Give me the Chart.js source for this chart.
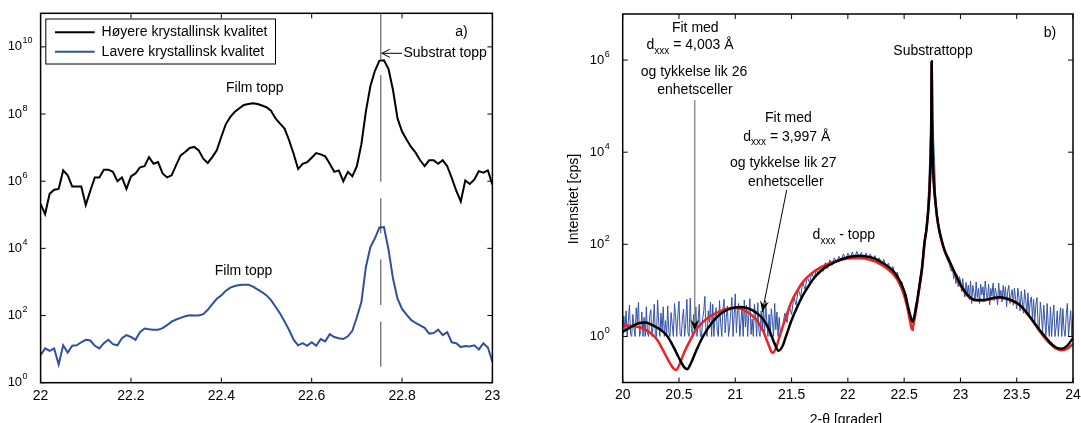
<!DOCTYPE html>
<html>
<head>
<meta charset="utf-8">
<script src="https://cdn.jsdelivr.net/npm/chart.js@4.4.0/dist/chart.umd.min.js"></script>
<style>
  html, body { margin: 0; padding: 0; background: #fff; overflow: hidden; }
  #wrap { position: relative; width: 1081px; height: 423px; overflow: hidden; }
  canvas { position: absolute; top: 0; }
  #panelA { left: 0; }
  #panelB { left: 540px; }
</style>
</head>
<body>
<div id="wrap">
  <canvas id="panelA" width="540" height="423"></canvas>
  <canvas id="panelB" width="560" height="423"></canvas>
</div>
<script>
// ---- panel a) : two films, offset on a log axis ----
const twoThetaA = [
  22.00, 22.01, 22.02, 22.03, 22.04, 22.05, 22.06, 22.07, 22.08, 22.09,
  22.10, 22.11, 22.12, 22.13, 22.14, 22.15, 22.16, 22.17, 22.18, 22.19,
  22.20, 22.21, 22.22, 22.23, 22.24, 22.25, 22.26, 22.27, 22.28, 22.29,
  22.30, 22.31, 22.32, 22.33, 22.34, 22.35, 22.36, 22.37, 22.38, 22.39,
  22.40, 22.41, 22.42, 22.43, 22.44, 22.45, 22.46, 22.47, 22.48, 22.49,
  22.50, 22.51, 22.52, 22.53, 22.54, 22.55, 22.56, 22.57, 22.58, 22.59,
  22.60, 22.61, 22.62, 22.63, 22.64, 22.65, 22.66, 22.67, 22.68, 22.69,
  22.70, 22.71, 22.72, 22.73, 22.74, 22.75, 22.76, 22.77, 22.78, 22.79,
  22.80, 22.81, 22.82, 22.83, 22.84, 22.85, 22.86, 22.87, 22.88, 22.89,
  22.90, 22.91, 22.92, 22.93, 22.94, 22.95, 22.96, 22.97, 22.98, 22.99,
  23.00
];
const highQuality = [
  2.1e5, 1.05e5, 4.2e5, 5.6e5, 5.9e5, 2.1e6, 1.5e6, 6.9e5, 6.9e5, 6.9e5,
  1.95e5, 5.2e5, 1.3e6, 1.3e6, 2.2e6, 2.2e6, 1.9e6, 1.0e6, 1.3e6, 5.9e5,
  1.4e6, 1.7e6, 2.6e6, 2.8e6, 5.2e6, 3.3e6, 3.7e6, 1.7e6, 1.3e6, 1.5e6,
  3.0e6, 5.9e6, 7.4e6, 9.8e6, 1.05e7, 8.3e6, 4.7e6, 3.5e6, 5.2e6, 8.3e6,
  2.1e7, 5.0e7, 8.3e7, 1.17e8, 1.48e8, 1.86e8, 2.0e8, 2.1e8, 2.0e8, 1.8e8,
  1.6e8, 1.26e8, 7.4e7, 5.2e7, 3.7e7, 1.66e7, 6.6e6, 2.3e6, 3.3e6, 3.7e6,
  5.0e6, 6.9e6, 6.3e6, 5.5e6, 3.3e6, 1.9e6, 2.1e6, 1.0e6, 1.9e6, 1.4e6,
  2.8e6, 1.26e7, 1.2e8, 6.8e8, 1.95e9, 3.9e9, 4.0e9, 2.2e9, 5.2e8, 7.4e7,
  3.0e7, 1.74e7, 1.05e7, 7.1e6, 4.2e6, 2.8e6, 4.2e6, 4.2e6, 3.3e6, 4.2e6,
  2.8e6, 1.26e6, 5.2e5, 2.5e5, 1.05e6, 8.3e5, 1.12e6, 2.0e6, 1.8e6, 2.1e6,
  7.9e5
];
const lowQuality = [
  6.6, 10.5, 8.9, 10.5, 3.5, 13, 7.9, 12.6, 13, 16,
  19, 18, 12.6, 10.5, 15, 19, 14, 13, 21, 26,
  23, 19, 32, 41, 39, 38, 38, 42, 52, 66,
  76, 85, 95, 102, 100, 100, 110, 148, 219, 316,
  398, 550, 676, 759, 813, 832, 832, 724, 603, 501,
  398, 288, 182, 115, 66, 37, 19, 13, 15, 12.6,
  16, 12.6, 20, 17, 28, 23, 21, 20, 24, 35,
  89, 251, 2800, 1.1e4, 2.0e4, 4.2e4, 4.3e4, 9.3e3, 1260, 316,
  158, 107, 74, 60, 51, 43, 29, 30, 38, 26,
  32, 16, 15, 11.5, 12.3, 12, 13, 9.8, 15, 11.2,
  4.2
];
const xTicksA = [22, 22.2, 22.4, 22.6, 22.8, 23];
const yTicksA = [1, 1e2, 1e4, 1e6, 1e8, 1e10];
const substrateA = 22.753;

// ---- panel b) : measured scan and two fits ----
const twoThetaB = [
  20.00, 20.01, 20.02, 20.03, 20.04, 20.05, 20.06, 20.07, 20.08, 20.09,
  20.10, 20.11, 20.12, 20.13, 20.14, 20.15, 20.16, 20.17, 20.18, 20.19,
  20.20, 20.21, 20.22, 20.23, 20.24, 20.25, 20.26, 20.27, 20.28, 20.29,
  20.30, 20.31, 20.32, 20.33, 20.34, 20.35, 20.36, 20.37, 20.38, 20.39,
  20.40, 20.41, 20.42, 20.43, 20.44, 20.45, 20.46, 20.47, 20.48, 20.49,
  20.50, 20.51, 20.52, 20.53, 20.54, 20.55, 20.56, 20.57, 20.58, 20.59,
  20.60, 20.61, 20.62, 20.63, 20.64, 20.65, 20.66, 20.67, 20.68, 20.69,
  20.70, 20.71, 20.72, 20.73, 20.74, 20.75, 20.76, 20.77, 20.78, 20.79,
  20.80, 20.81, 20.82, 20.83, 20.84, 20.85, 20.86, 20.87, 20.88, 20.89,
  20.90, 20.91, 20.92, 20.93, 20.94, 20.95, 20.96, 20.97, 20.98, 20.99,
  21.00, 21.01, 21.02, 21.03, 21.04, 21.05, 21.06, 21.07, 21.08, 21.09,
  21.10, 21.11, 21.12, 21.13, 21.14, 21.15, 21.16, 21.17, 21.18, 21.19,
  21.20, 21.21, 21.22, 21.23, 21.24, 21.25, 21.26, 21.27, 21.28, 21.29,
  21.30, 21.31, 21.32, 21.33, 21.34, 21.35, 21.36, 21.37, 21.38, 21.39,
  21.40,
  21.42, 21.44, 21.46, 21.48,
  21.50, 21.52, 21.54, 21.56, 21.58, 21.60, 21.62, 21.64, 21.66, 21.68,
  21.70, 21.72, 21.74, 21.76, 21.78, 21.80, 21.82, 21.84, 21.86, 21.88,
  21.90, 21.92, 21.94, 21.96, 21.98, 22.00, 22.02, 22.04, 22.06, 22.08,
  22.10, 22.12, 22.14, 22.16, 22.18, 22.20, 22.22, 22.24, 22.26, 22.28,
  22.30, 22.32, 22.34, 22.36, 22.38, 22.40, 22.42, 22.44, 22.46, 22.48,
  22.50, 22.52, 22.54, 22.56, 22.58, 22.60, 22.62, 22.64, 22.66, 22.68,
  22.70, 22.71, 22.72, 22.73, 22.74, 22.745, 22.75, 22.76, 22.77, 22.78, 22.79, 22.80,
  22.82, 22.84, 22.86, 22.88,
  22.90, 22.91, 22.92, 22.93, 22.94, 22.95, 22.96, 22.97, 22.98, 22.99,
  23.00, 23.01, 23.02, 23.03, 23.04, 23.05, 23.06, 23.07, 23.08, 23.09,
  23.10, 23.11, 23.12, 23.13, 23.14, 23.15, 23.16, 23.17, 23.18, 23.19,
  23.20, 23.21, 23.22, 23.23, 23.24, 23.25, 23.26, 23.27, 23.28, 23.29,
  23.30, 23.31, 23.32, 23.33, 23.34, 23.35, 23.36, 23.37, 23.38, 23.39,
  23.40, 23.41, 23.42, 23.43, 23.44, 23.45, 23.46, 23.47, 23.48, 23.49,
  23.50, 23.51, 23.52, 23.53, 23.54, 23.55, 23.56, 23.57, 23.58, 23.59,
  23.60, 23.61, 23.62, 23.63, 23.64, 23.65, 23.66, 23.67, 23.68, 23.69,
  23.70, 23.71, 23.72, 23.73, 23.74, 23.75, 23.76, 23.77, 23.78, 23.79,
  23.80, 23.81, 23.82, 23.83, 23.84, 23.85, 23.86, 23.87, 23.88, 23.89,
  23.90, 23.91, 23.92, 23.93, 23.94, 23.95, 23.96, 23.97, 23.98, 23.99,
  24.00
];
const measured = [
  1.0, 2.8, 1.4, 3.6, 1.0, 2.2, 4.8, 1.1, 1.0, 3.0,
  1.6, 1.0, 4.2, 2.0, 5.5, 1.0, 1.3, 3.4, 1.0, 2.6,
  1.0, 4.4, 1.2, 1.0, 2.8, 3.8, 1.0, 1.7, 5.0, 1.1,
  1.0, 6.2, 2.0, 1.0, 3.2, 1.3, 4.4, 1.0, 2.2, 1.0,
  4.6, 1.2, 1.0, 3.3, 1.8, 1.0, 5.2, 2.6, 1.0, 3.0,
  5.8, 1.1, 1.0, 2.4, 3.9, 1.0, 2.0, 6.4, 1.2, 1.0,
  6.8, 1.5, 1.0, 3.0, 1.4, 4.4, 1.0, 2.2, 5.0, 1.0,
  1.0, 2.4, 3.6, 7.4, 1.2, 1.0, 3.6, 2.0, 5.6, 1.0,
  5.0, 1.0, 2.6, 4.2, 1.3, 1.0, 6.0, 2.0, 1.0, 3.8,
  6.4, 1.2, 2.6, 4.6, 1.0, 1.6, 3.4, 7.0, 1.0, 2.8,
  8.4, 1.2, 3.6, 5.2, 1.0, 2.0, 4.4, 1.0, 6.2, 1.6,
  4.8, 1.0, 3.0, 6.6, 1.1, 2.4, 1.0, 5.0, 2.8, 1.0,
  5.4, 1.3, 1.0, 3.6, 1.5, 4.4, 1.0, 6.0, 2.2, 1.0,
  3.0, 1.0, 4.0, 2.2, 1.0, 5.2, 1.4, 3.4, 1.0, 2.6,
  1.2,
  1.6, 3.2, 2.0, 4.6,
  3.0, 7.2, 4.8, 10.8, 7.2, 15.2, 10.4, 19.6, 14.4, 24,
  17.6, 28, 21.6, 33, 26, 40, 30, 46, 35, 51,
  40, 55, 43, 62, 46, 64, 48, 68, 50, 70,
  50, 67, 48, 65, 46, 62, 43, 57, 40, 51,
  35, 47, 30, 39, 26, 33, 21, 25, 14, 15.6,
  8.0, 8.2, 3.2, 1.6, 1.3, 4.8, 6.4, 20, 28, 96,
  300, 650, 2500, 13000, 60000, 90000, 70000, 25000, 6500, 1200, 480, 300,
  145, 105, 72, 48,
  38, 30, 26, 32, 18, 24, 14, 22, 12, 20,
  16, 9.5, 18, 11, 7.2, 15, 8.5, 13, 6.4, 16,
  5.2, 12.8, 9.0, 6.0, 15.2, 7.0, 11, 5.2, 13.6, 8.0,
  12, 5.6, 16, 9.0, 6.0, 13.6, 4.8, 11, 7.6, 14.4,
  6.0, 11.2, 8.4, 4.8, 14.4, 7.2, 10, 5.6, 12.8, 6.8,
  12, 4.4, 9.6, 12.8, 5.2, 8.0, 10.4, 4.8, 11.2, 6.4,
  4.0, 11.2, 7.0, 3.6, 9.6, 5.6, 3.2, 10.4, 6.4, 3.0,
  8.8, 2.8, 5.6, 7.2, 2.4, 6.4, 2.0, 4.8, 7.0, 1.8,
  1.5, 5.6, 3.0, 1.2, 4.8, 2.2, 1.05, 5.2, 1.8, 1.0,
  4.4, 1.0, 2.6, 4.8, 1.0, 1.6, 3.6, 1.0, 2.4, 4.2,
  1.0, 4.0, 1.4, 1.0, 3.0, 5.2, 1.0, 2.0, 3.6, 1.0,
  3.2
];
// fit with d = 4,003 Å, 26 unit cells (black)
const fitBlackX = [
  20.00, 20.05, 20.10, 20.15, 20.20, 20.25, 20.30, 20.35, 20.40, 20.45, 20.50, 20.55, 20.575,
  20.60, 20.65, 20.70, 20.75, 20.80, 20.85, 20.90, 20.95, 21.00, 21.05, 21.10, 21.15, 21.20,
  21.25, 21.30, 21.35, 21.385, 21.42, 21.45, 21.50, 21.55, 21.60, 21.65, 21.70, 21.75, 21.80,
  21.85, 21.90, 21.95, 22.00, 22.05, 22.10, 22.15, 22.20, 22.25, 22.30, 22.35, 22.40, 22.45,
  22.50, 22.53, 22.555, 22.575, 22.60, 22.63, 22.66, 22.68, 22.70, 22.72, 22.73, 22.74, 22.745,
  22.75, 22.76, 22.78, 22.80, 22.83, 22.86, 22.90, 22.95, 23.00, 23.05, 23.10, 23.15, 23.20,
  23.25, 23.30, 23.35, 23.40, 23.45, 23.50, 23.55, 23.60, 23.65, 23.70, 23.75, 23.80, 23.85,
  23.90, 23.95, 24.00
];
const fitBlack = [
  1.26, 1.48, 1.74, 1.95, 2.00, 1.82, 1.58, 1.32, 0.98, 0.60, 0.34, 0.21, 0.195,
  0.245, 0.47, 0.87, 1.41, 2.09, 2.82, 3.47, 3.98, 4.27, 4.37, 4.17, 3.72, 3.09,
  2.34, 1.41, 0.69, 0.49, 0.62, 1.00, 2.24, 4.37, 7.76, 12.3, 18.6, 25.1, 31.6,
  37.2, 42.7, 47.9, 52.5, 55.0, 56.2, 55.0, 52.5, 47.9, 40.7, 33.9, 26.9, 18.2,
  9.77, 5.01, 2.82, 2.09, 3.55, 10.2, 32.4, 105, 234, 851, 2690, 27500, 930000,
  27500, 3390, 759, 295, 132, 74.1, 44.7, 24.0, 13.5, 8.71, 6.61, 6.17, 6.17,
  6.46, 6.92, 7.08, 6.76, 6.17, 5.37, 4.27, 3.02, 2.09, 1.41, 1.00, 0.72, 0.575,
  0.54, 0.63, 0.93
];
// fit with d = 3,997 Å, 27 unit cells (red)
const fitRedX = [
  20.00, 20.05, 20.10, 20.15, 20.20, 20.25, 20.30, 20.35, 20.40, 20.45, 20.475,
  20.50, 20.55, 20.60, 20.65, 20.70, 20.75, 20.80, 20.85, 20.90, 20.95, 21.00, 21.05,
  21.10, 21.15, 21.20, 21.25, 21.30, 21.33, 21.36, 21.40, 21.45, 21.50, 21.55, 21.60,
  21.65, 21.70, 21.75, 21.80, 21.85, 21.90, 21.95, 22.00, 22.05, 22.10, 22.15, 22.20,
  22.25, 22.30, 22.35, 22.40, 22.45, 22.50, 22.53, 22.555, 22.57, 22.59, 22.63, 22.66,
  22.68, 22.70, 22.72, 22.73, 22.74, 22.745, 22.75, 22.76, 22.78, 22.80, 22.83, 22.86,
  22.90, 22.95, 23.00, 23.05, 23.10, 23.15, 23.20, 23.25, 23.30, 23.35, 23.40, 23.45,
  23.50, 23.55, 23.60, 23.65, 23.70, 23.75, 23.80, 23.85, 23.90, 23.95, 24.00
];
const fitRed = [
  1.78, 1.70, 1.66, 1.58, 1.41, 1.17, 0.89, 0.55, 0.32, 0.204, 0.186,
  0.234, 0.47, 0.83, 1.38, 1.91, 2.45, 2.95, 3.39, 3.80, 4.07, 4.17, 3.98,
  3.47, 2.82, 2.09, 1.26, 0.62, 0.44, 0.55, 1.12, 2.63, 5.75, 9.77, 15.1,
  20.4, 25.7, 30.9, 35.5, 39.8, 43.7, 46.8, 49.0, 50.1, 50.1, 49.0, 45.7,
  41.7, 35.5, 29.5, 22.9, 15.5, 7.76, 3.98, 2.00, 1.41, 2.24, 9.12, 30.9,
  100, 224, 851, 2690, 27500, 930000, 27500, 3390, 724, 282, 126, 70.8,
  42.7, 22.9, 12.9, 8.32, 6.46, 6.03, 6.03, 6.31, 6.76, 6.92, 6.61, 6.03,
  5.25, 4.17, 2.95, 2.04, 1.35, 0.93, 0.68, 0.54, 0.50, 0.54, 0.69
];
const xTicksB = [20, 20.5, 21, 21.5, 22, 22.5, 23, 23.5, 24];
const yTicksB = [1, 1e2, 1e4, 1e6];

const FONT = '"Liberation Sans", Arial, Helvetica, sans-serif';
const BLUE = '#2f4fa3';

Chart.defaults.font.family = FONT;
Chart.defaults.font.size = 14;
Chart.defaults.color = '#000';

const pairs = (xs, ys) => xs.map((x, i) => ({ x, y: ys[i] }));

// MATLAB-like box: frame, inward ticks on all sides, 10^n labels
function drawFrame(chart, xTicks, yTicks) {
  const { ctx, chartArea: a, scales: { x, y } } = chart;
  ctx.save();
  ctx.strokeStyle = '#000';
  ctx.lineWidth = 1;
  ctx.beginPath();
  xTicks.forEach(v => {
    const px = x.getPixelForValue(v);
    ctx.moveTo(px, a.bottom); ctx.lineTo(px, a.bottom - 5);
    ctx.moveTo(px, a.top); ctx.lineTo(px, a.top + 5);
  });
  yTicks.forEach(v => {
    const py = y.getPixelForValue(v);
    ctx.moveTo(a.left, py); ctx.lineTo(a.left + 5, py);
    ctx.moveTo(a.right, py); ctx.lineTo(a.right - 5, py);
  });
  ctx.stroke();
  ctx.lineWidth = 1.5;
  ctx.strokeRect(a.left, a.top, a.right - a.left, a.bottom - a.top);

  ctx.fillStyle = '#000';
  ctx.textBaseline = 'middle';
  yTicks.forEach(v => {
    const py = y.getPixelForValue(v);
    ctx.font = `13px ${FONT}`;
    ctx.textAlign = 'right';
    ctx.fillText('10', a.left - 18.5, py);
    ctx.font = `9px ${FONT}`;
    ctx.textAlign = 'left';
    ctx.fillText(String(Math.round(Math.log10(v))), a.left - 18, py - 6);
  });
  ctx.restore();
}

function text(ctx, str, x, y, align = 'center', size = 14) {
  ctx.font = `${size}px ${FONT}`;
  ctx.textAlign = align;
  ctx.textBaseline = 'middle';
  ctx.fillText(str, x, y);
}

// "d" + subscript "xxx" + rest, centred (or left aligned)
function dText(ctx, rest, x, y, align = 'center') {
  const parts = [['d', 14, 0], ['xxx', 10, 6], [rest, 14, 0]];
  let w = 0;
  parts.forEach(([t, s]) => { ctx.font = `${s}px ${FONT}`; w += ctx.measureText(t).width; });
  let cx = align === 'center' ? x - w / 2 : x;
  ctx.textAlign = 'left';
  ctx.textBaseline = 'middle';
  parts.forEach(([t, s, dy]) => {
    ctx.font = `${s}px ${FONT}`;
    ctx.fillText(t, cx, y + dy);
    cx += ctx.measureText(t).width;
  });
}

function arrow(ctx, x0, y0, x1, y1, color, width) {
  ctx.save();
  ctx.strokeStyle = color;
  ctx.lineWidth = width;
  ctx.beginPath(); ctx.moveTo(x0, y0); ctx.lineTo(x1, y1); ctx.stroke();
  const ang = Math.atan2(y1 - y0, x1 - x0);
  ctx.translate(x1, y1);
  ctx.rotate(ang);
  ctx.fillStyle = '#000';
  ctx.beginPath();
  ctx.moveTo(0, 0); ctx.lineTo(-11, -4.5); ctx.lineTo(-7, 0); ctx.lineTo(-11, 4.5);
  ctx.closePath(); ctx.fill();
  ctx.restore();
}

const panelAPlugin = {
  id: 'panelA',
  afterDraw(chart) {
    const { ctx, chartArea: a, scales: { x } } = chart;
    drawFrame(chart, xTicksA, yTicksA);
    ctx.save();
    // substrate marker
    const sx = x.getPixelForValue(substrateA);
    ctx.strokeStyle = '#444';
    ctx.lineWidth = 1;
    ctx.beginPath(); ctx.moveTo(sx, a.top); ctx.lineTo(sx, 59); ctx.stroke();
    ctx.setLineDash([106.7, 16.6, 35, 26, 45.7, 16.7, 45, 400]);
    ctx.beginPath(); ctx.moveTo(sx, 75); ctx.lineTo(sx, 367); ctx.stroke();
    ctx.setLineDash([]);
    // "Substrat topp" arrow
    ctx.strokeStyle = '#000';
    ctx.beginPath();
    ctx.moveTo(402, 53.3); ctx.lineTo(sx + 1, 53.3);
    ctx.moveTo(sx + 9, 49.3); ctx.lineTo(sx + 1, 53.3); ctx.lineTo(sx + 9, 57.3);
    ctx.stroke();
    ctx.fillStyle = '#000';
    text(ctx, 'Substrat topp', 403.5, 53.3, 'left');
    text(ctx, 'a)', 461.5, 32.3);
    text(ctx, 'Film topp', 254.8, 88.3);
    text(ctx, 'Film topp', 243.5, 270.7);
    // legend
    ctx.fillStyle = '#fff';
    ctx.fillRect(45.8, 19, 229.7, 45);
    ctx.strokeStyle = '#000';
    ctx.lineWidth = 1;
    ctx.strokeRect(45.8, 19, 229.7, 45);
    ctx.lineWidth = 2;
    ctx.beginPath(); ctx.moveTo(55, 32.3); ctx.lineTo(94.7, 32.3); ctx.stroke();
    ctx.strokeStyle = BLUE;
    ctx.beginPath(); ctx.moveTo(55, 51.7); ctx.lineTo(94.7, 51.7); ctx.stroke();
    ctx.fillStyle = '#000';
    text(ctx, 'Høyere krystallinsk kvalitet', 101.6, 32.3, 'left');
    text(ctx, 'Lavere krystallinsk kvalitet', 101.6, 51.7, 'left');
    ctx.restore();
  }
};

const panelBPlugin = {
  id: 'panelB',
  afterDraw(chart) {
    const { ctx, scales: { x, y } } = chart;
    drawFrame(chart, xTicksB, yTicksB);
    const o = 540; // canvas offset on the page
    ctx.save();
    ctx.fillStyle = '#000';
    text(ctx, 'Fit med', 695.3 - o, 27.7);
    dText(ctx, ' = 4,003 Å', 690 - o, 45);
    text(ctx, 'og tykkelse lik 26', 694 - o, 71.7);
    text(ctx, 'enhetsceller', 695 - o, 90);
    text(ctx, 'Fit med', 788.4 - o, 118.3);
    dText(ctx, ' = 3,997 Å', 786.8 - o, 136.7);
    text(ctx, 'og tykkelse lik 27', 783.3 - o, 163.3);
    text(ctx, 'enhetsceller', 785.8 - o, 181.7);
    text(ctx, 'Substrattopp', 933 - o, 51);
    text(ctx, 'b)', 1050 - o, 33.3);
    dText(ctx, ' - topp', 812.6 - o, 235, 'left');
    arrow(ctx, x.getPixelForValue(20.64), 100, x.getPixelForValue(20.64), y.getPixelForValue(1.35), '#8c8c8c', 1.4);
    arrow(ctx, 786.7 - o, 190, x.getPixelForValue(21.24), y.getPixelForValue(3.4), '#000', 1);
    // axis titles
    ctx.font = `14px ${FONT}`;
    ctx.textAlign = 'center';
    ctx.textBaseline = 'alphabetic';
    ctx.fillText('2-θ [grader]', 846 - o, 423.5);
    ctx.translate(574.5 - o, 199);
    ctx.rotate(-Math.PI / 2);
    ctx.textBaseline = 'middle';
    ctx.fillText('Intensitet [cps]', 0, 0);
    ctx.restore();
  }
};

function xScale(min, max, ticks, height) {
  return {
    type: 'linear', min, max,
    grid: { display: false, drawTicks: false },
    border: { display: false },
    ticks: { padding: 4.6, autoSkip: false, maxRotation: 0, color: '#000', font: { size: 14 },
      callback: v => String(v) },
    afterBuildTicks: s => { s.ticks = ticks.map(v => ({ value: v })); },
    afterFit: s => { s.height = height; }
  };
}

function yScale(min, max, ticks, width) {
  return {
    type: 'logarithmic', min, max,
    grid: { display: false, drawTicks: false },
    border: { display: false },
    ticks: { display: false },
    afterBuildTicks: s => { s.ticks = ticks.map(v => ({ value: v })); },
    afterFit: s => { s.width = width; }
  };
}

const common = {
  responsive: false,
  animation: false,
  devicePixelRatio: 1,
  events: [],
  plugins: { legend: { display: false }, tooltip: { enabled: false } },
  elements: { point: { radius: 0 } }
};

new Chart(document.getElementById('panelA'), {
  type: 'line',
  data: {
    datasets: [
      { label: 'Høyere krystallinsk kvalitet', data: pairs(twoThetaA, highQuality),
        borderColor: '#000', borderWidth: 2, tension: 0 },
      { label: 'Lavere krystallinsk kvalitet', data: pairs(twoThetaA, lowQuality),
        borderColor: BLUE, borderWidth: 2, tension: 0 }
    ]
  },
  options: {
    ...common,
    layout: { padding: { top: 13.3, right: 47.6, left: 0, bottom: 0 } },
    scales: {
      x: xScale(22, 23, xTicksA, 40.3),
      y: yScale(1, 1e11, yTicksA, 40.6)
    }
  },
  plugins: [panelAPlugin]
});

new Chart(document.getElementById('panelB'), {
  type: 'line',
  data: {
    datasets: [
      { label: 'Fit 4,003 Å', data: pairs(fitBlackX, fitBlack), order: 0,
        borderColor: '#000', borderWidth: 2.5, cubicInterpolationMode: 'monotone' },
      { label: 'Fit 3,997 Å', data: pairs(fitRedX, fitRed), order: 1,
        borderColor: '#ee2424', borderWidth: 2.5, cubicInterpolationMode: 'monotone' },
      { label: 'Måling', data: pairs(twoThetaB, measured), order: 2,
        borderColor: '#3353a8', borderWidth: 1, tension: 0 }
    ]
  },
  options: {
    ...common,
    layout: { padding: { top: 14, right: 27, left: 0, bottom: 0 } },
    scales: {
      x: xScale(20, 24, xTicksB, 40.5),
      y: yScale(0.1, 1e7, yTicksB, 82.7)
    }
  },
  plugins: [panelBPlugin]
});
</script>
</body>
</html>
